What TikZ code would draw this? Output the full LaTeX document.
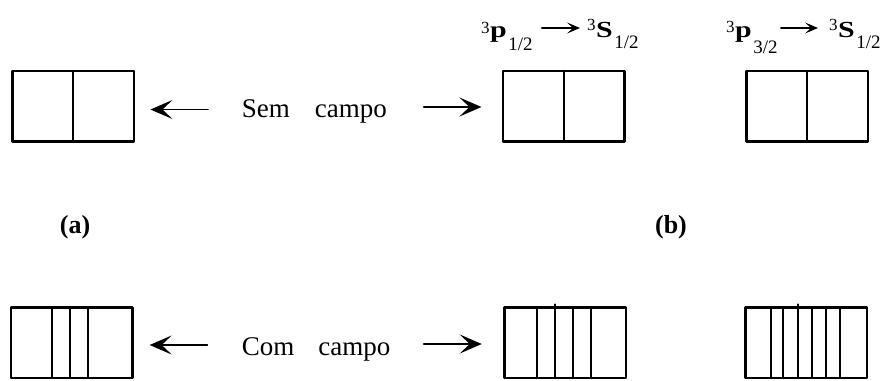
\documentclass[tikz,border=0pt]{standalone}
\usepackage{fontspec}
\setmainfont{Liberation Serif}
\usepackage{graphicx}
\usetikzlibrary{arrows.meta}

\tikzset{
  boite/.style={draw, line width=2.5pt, minimum width=121.5pt, minimum height=70.5pt, inner sep=0pt, outer sep=0pt},
  trait/.style={line width=2pt},
  fleche/.style={line width=1.8pt, -{Stealth[length=22pt,width=19pt,inset=10pt]}},
  petitefleche/.style={line width=1.3pt, -{Stealth[length=13pt,width=11pt,inset=6pt]}},
  texte/.style={inner sep=0pt, anchor=base west, font=\fontsize{27}{30}\selectfont},
  lettre/.style={inner sep=0pt, anchor=base, font=\fontsize{26}{30}\selectfont\bfseries},
  niv/.style={inner sep=0pt, anchor=base west}
}

% #1 montee exposant, #2 exposant, #3 lettre, #4 descente indice, #5 indice
\newcommand{\etat}[5]{%
  \raisebox{#1}{\fontsize{17}{17}\selectfont #2}\kern0.5pt%
  \scalebox{1.3}[1]{\fontsize{23}{23}\selectfont\bfseries #3}\kern1.5pt%
  \raisebox{-#4}{\fontsize{19}{19}\selectfont #5}}

\begin{document}
\begin{tikzpicture}[line cap=round,line join=round,x=1pt,y=-1pt]
		\useasboundingbox (0,0) rectangle (885,380);
		%Boites sem campo
		\node[boite] (b1) at (73,106) {};
		\node[boite] (b2) at (563.5,106) {};
		\node[boite] (b3) at (807,106) {};
		\draw[trait] (b1.north) -- (b1.south);
		\draw[trait] (b2.north) -- (b2.south);
		\draw[trait] (b3.north) -- (b3.south);
		%Boites com campo
		\node[boite] (b4) at (71.7,342.7) {};
		\node[boite] (b5) at (565.3,342.7) {};
		\node[boite] (b6) at (806.2,342.7) {};
		\foreach \dx in {41.2,58.8,76.8}
			\draw[trait] ([xshift=\dx pt]b4.north west) -- ([xshift=\dx pt]b4.south west);
		\foreach \dx in {32.8,68.8,86.5}
			\draw[trait] ([xshift=\dx pt]b5.north west) -- ([xshift=\dx pt]b5.south west);
		\draw[trait] ([xshift=50.5pt,yshift=3pt]b5.north west) -- ([xshift=50.5pt]b5.south west);
		\foreach \dx in {25.2,37.8,66.2,80.2,94.5}
			\draw[trait] ([xshift=\dx pt]b6.north west) -- ([xshift=\dx pt]b6.south west);
		\draw[trait] ([xshift=52.2pt,yshift=3pt]b6.north west) -- ([xshift=52.2pt]b6.south west);
		%Textes
		\node[texte] (sem) at (241.7,117.5) {Sem\hspace{25pt}campo};
		\node[texte] (com) at (241.7,355) {Com\hspace{24pt}campo};
		\draw[fleche, shorten <=33.7pt, shorten >=16.7pt] ([yshift=8pt]sem.base west) -- ([yshift=8pt]sem.base west -| b1.east);
		\draw[fleche, shorten <=36.7pt, shorten >=21.3pt] ([yshift=10.5pt]sem.base east) -- ([yshift=10.5pt]sem.base east -| b2.west);
		\draw[fleche, shorten <=34.4pt, shorten >=17.2pt] ([yshift=10pt]com.base west) -- ([yshift=10pt]com.base west -| b4.east);
		\draw[fleche, shorten <=33.3pt, shorten >=22.8pt] ([yshift=11pt]com.base east) -- ([yshift=11pt]com.base east -| b5.west);
		%Lettres
		\node[lettre] (a) at (75,233.3) {(a)};
		\node[lettre] (b) at (671,233.3) {(b)};
		%Transitions
		\node[niv] (p1) at (481,37) {\etat{4pt}{3}{p}{13pt}{1/2}};
		\node[niv] (s1) at (587,37) {\etat{6pt}{3}{S}{11pt}{1/2}};
		\node[niv] (p2) at (726,37) {\etat{5pt}{3}{p}{16pt}{3/2}};
		\node[niv] (s2) at (829,37) {\etat{7pt}{3}{S}{11pt}{1/2}};
		\draw[petitefleche] ([xshift=9pt,yshift=9pt]p1.base east) -- ([xshift=-7pt,yshift=9pt]s1.base west);
		\draw[petitefleche] ([xshift=3pt,yshift=9pt]p2.base east) -- ([xshift=-11pt,yshift=9pt]s2.base west);
\end{tikzpicture}
\end{document}
